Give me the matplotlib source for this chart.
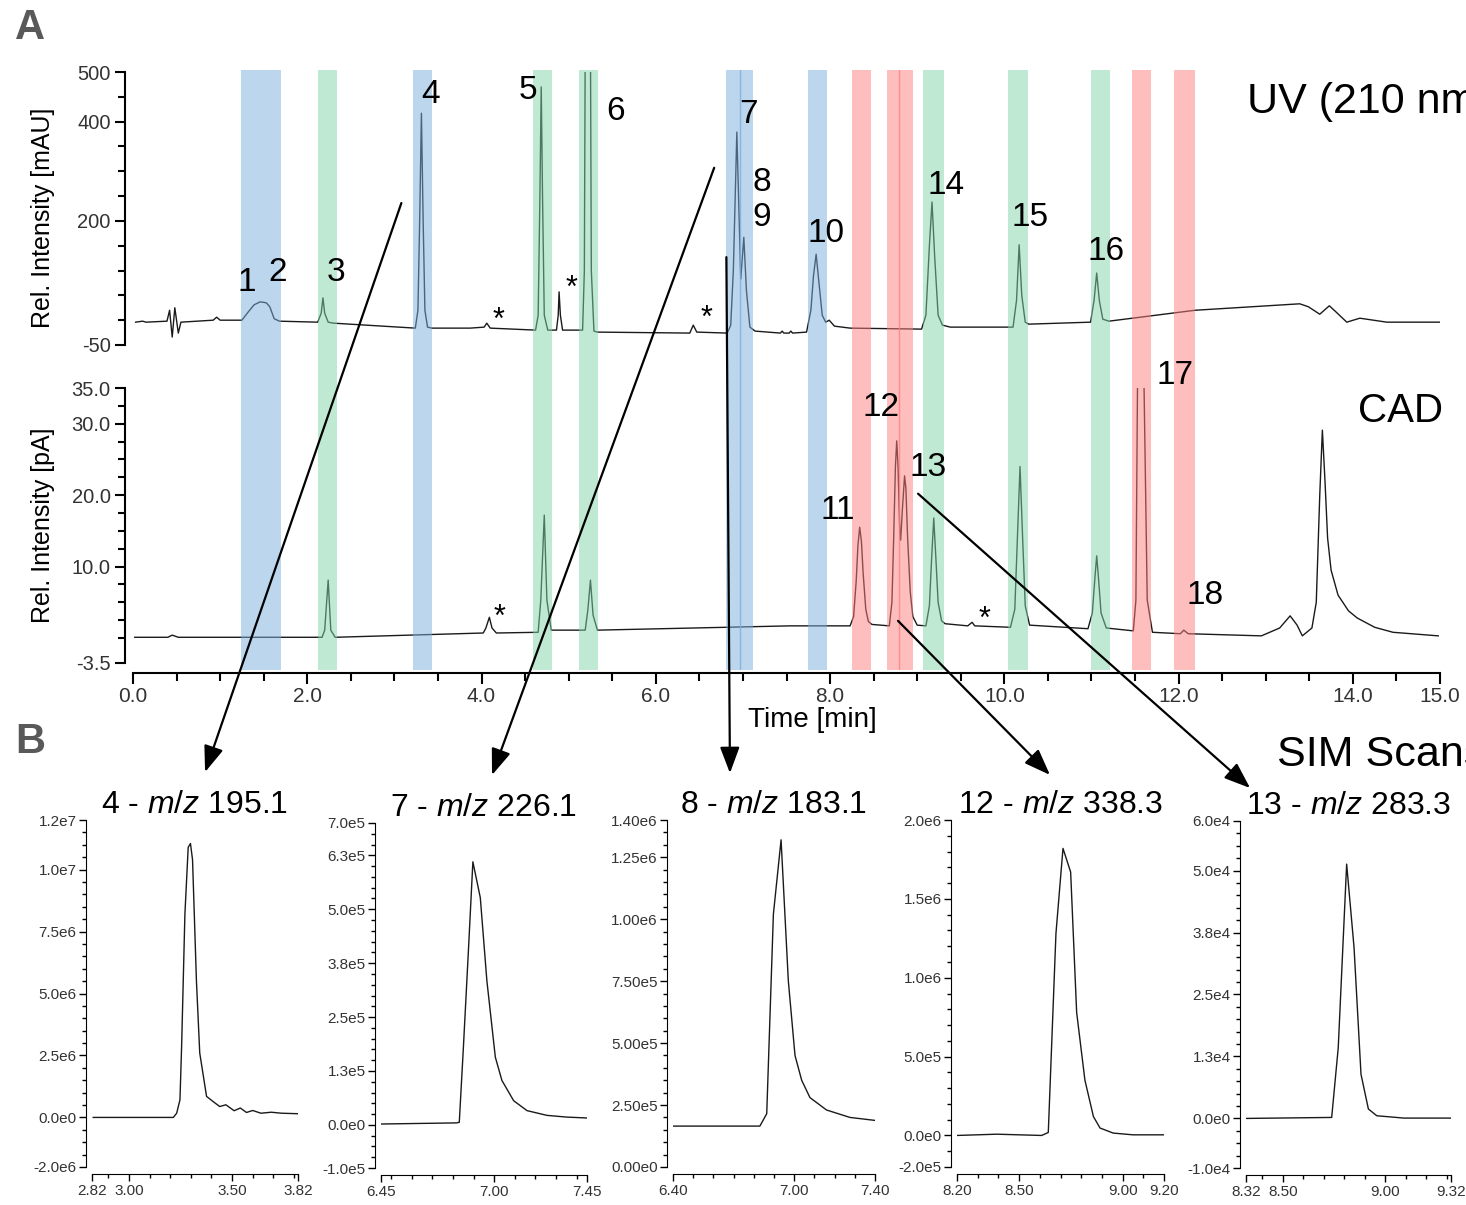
import numpy as np
import matplotlib.pyplot as plt
from matplotlib.patches import ConnectionPatch

plt.rcParams['font.family'] = ['Liberation Sans', 'DejaVu Sans']
plt.rcParams['mathtext.fontset'] = 'custom'
plt.rcParams['mathtext.rm'] = 'Liberation Sans'
plt.rcParams['mathtext.it'] = 'Liberation Sans:italic'

# ---- UV trace (min, mAU)
uv_time = [0.03, 0.11, 0.15, 0.39, 0.42, 0.45, 0.48, 0.52, 0.55, 0.92, 0.96, 1.00,
           1.25, 1.32, 1.39, 1.46, 1.53, 1.57, 1.62, 1.68,
           2.12, 2.16, 2.18, 2.20, 2.24, 2.30,
           3.24, 3.27, 3.29, 3.31, 3.33, 3.35, 3.38, 3.43, 3.87, 4.03, 4.06, 4.10,
           4.62, 4.65, 4.67, 4.685, 4.70, 4.72, 4.76,
           4.86, 4.88, 4.89, 4.905, 4.93,
           5.16, 5.18, 5.19, 5.25, 5.26, 5.29, 5.33,
           6.39, 6.43, 6.47,
           6.82, 6.86, 6.89, 6.93, 6.975, 7.01, 7.04, 7.08, 7.14,
           7.43, 7.45, 7.47, 7.53, 7.55, 7.57,
           7.73, 7.78, 7.81, 7.84, 7.87, 7.91, 7.95, 7.99, 8.05, 8.23,
           9.05, 9.10, 9.14, 9.17, 9.20, 9.24, 9.29, 9.38,
           10.10, 10.14, 10.17, 10.20, 10.24, 10.28,
           10.99, 11.03, 11.06, 11.09, 11.13, 11.20,
           12.19, 13.39, 13.49, 13.62, 13.73, 13.81, 13.93, 14.08, 14.39, 15.0]
uv_signal = [-4, -2, -4, -2, 20, -34, 25, -26, -4, 0, 6, 0,
             0, 16, 31, 37, 35, 27, 3, -2,
             -4, 14, 45, 14, -4, -6,
             -16, 20, 200, 417, 200, 20, -14, -16, -16, -14, -6, -16,
             -20, 10, 250, 470, 250, 10, -20,
             -20, 10, 57, 10, -20,
             -20, 100, 560, 560, 100, -22, -24,
             -26, -10, -24,
             -26, -10, 100, 379, 83, 167, 60, -14, -22,
             -26, -22, -26, -26, -22, -26,
             -24, 20, 90, 133, 80, 10, -4, 0, -12, -16,
             -18, 10, 150, 238, 130, 10, -10, -14,
             -14, 40, 152, 50, -4, -8,
             -4, 40, 95, 40, 2, -2,
             20, 33, 27, 12, 29, 16, -4, 4, -4, -4]

# ---- CAD trace (min, pA)
cad_time = [0.02, 0.40, 0.45, 0.52, 2.17, 2.20, 2.24, 2.27, 2.32,
            4.02, 4.05, 4.09, 4.12, 4.17,
            4.65, 4.68, 4.72, 4.75, 4.80,
            5.19, 5.22, 5.25, 5.28, 5.33,
            7.54, 8.23, 8.27, 8.30, 8.32, 8.34, 8.36, 8.38, 8.41, 8.44, 8.48,
            8.68, 8.71, 8.73, 8.75, 8.765, 8.78, 8.80, 8.81, 8.83, 8.855, 8.87, 8.89, 8.92, 8.95, 9.00,
            9.10, 9.14, 9.165, 9.19, 9.215, 9.24, 9.28, 9.32,
            9.58, 9.63, 9.66,
            10.07, 10.12, 10.15, 10.18, 10.21, 10.24, 10.29,
            10.96, 11.01, 11.04, 11.06, 11.08, 11.11, 11.17,
            11.48, 11.51, 11.53, 11.60, 11.64, 11.70,
            12.02, 12.06, 12.11, 12.95, 13.16, 13.28, 13.36, 13.42,
            13.53, 13.58, 13.62, 13.65, 13.68, 13.71, 13.75, 13.83, 13.95, 14.05, 14.25, 14.46, 14.98]
cad_signal = [0.1, 0.1, 0.4, 0.1, 0.1, 1.1, 8.1, 1.1, 0.1,
              0.7, 1.4, 2.9, 1.4, 0.7,
              0.8, 5.3, 17.2, 5.3, 1.1,
              1.1, 3.9, 8.1, 3.2, 1.1,
              1.7, 1.7, 3.0, 8.0, 13.0, 15.5, 13.5, 9.0, 4.0, 2.3, 1.9,
              1.7, 5.0, 14.0, 24.0, 27.6, 24.0, 15.0, 13.7, 18.0, 22.7, 21.0, 14.0, 6.5, 3.0, 1.8,
              1.7, 4.5, 11.0, 16.8, 11.0, 5.0, 2.4, 2.0,
              1.7, 2.2, 1.7,
              1.5, 4.0, 14.0, 24.0, 14.0, 4.5, 1.8,
              1.3, 3.5, 8.5, 11.5, 8.5, 3.5, 1.4,
              1.0, 5.3, 38.0, 38.0, 5.3, 0.8,
              0.6, 1.1, 0.6, 0.3, 1.4, 3.1, 1.8, 0.3,
              1.4, 5.0, 20.0, 29.1, 22.0, 14.0, 9.5, 6.0, 3.8, 2.8, 1.5, 0.8, 0.3]

# ---- highlighted windows (min)
band_start = [1.24, 2.12, 3.21, 4.59, 5.12, 6.81, 7.75, 8.25, 8.65, 9.07, 10.04, 11.00, 11.47, 11.95]
band_end = [1.70, 2.34, 3.43, 4.81, 5.34, 7.12, 7.97, 8.47, 8.95, 9.31, 10.27, 11.21, 11.68, 12.19]
band_class = ['b', 'g', 'b', 'g', 'g', 'b', 'b', 'r', 'r', 'g', 'g', 'g', 'r', 'r']
band_marks = [6.97, 8.79]
band_mark_class = ['b', 'r']

# ---- peak labels
uv_lab = ['1', '2', '3', '4', '5', '6', '7', '8', '9', '10', '14', '15', '16']
uv_lab_t = [1.31, 1.66, 2.33, 3.41, 4.53, 5.54, 7.06, 7.22, 7.22, 7.95, 9.33, 10.30, 11.17]
uv_lab_v = [75, 97, 97, 454, 462, 420, 414, 278, 206, 174, 272, 206, 139]
uv_star_t = [4.20, 5.03, 6.58]
uv_star_v = [-2, 63, 2]
cad_lab = ['11', '12', '13', '17', '18']
cad_lab_t = [8.09, 8.58, 9.12, 11.96, 12.30]
cad_lab_v = [17.8, 32.2, 23.9, 36.7, 5.9]
cad_star_t = [4.21, 9.77]
cad_star_v = [2.8, 2.5]

# ---- SIM scans
sim_titles = ['4 - $\\mathit{m/z}$ 195.1', '7 - $\\mathit{m/z}$ 226.1', '8 - $\\mathit{m/z}$ 183.1',
              '12 - $\\mathit{m/z}$ 338.3', '13 - $\\mathit{m/z}$ 283.3']
sim_time = [
    [2.826, 3.215, 3.231, 3.247, 3.255, 3.271, 3.287, 3.298, 3.308, 3.327, 3.343, 3.376,
     3.408, 3.44, 3.47, 3.51, 3.54, 3.57, 3.60, 3.64, 3.69, 3.74, 3.82],
    [6.45, 6.817, 6.83, 6.85, 6.875, 6.896, 6.932, 6.964, 7.005, 7.037, 7.094, 7.159, 7.256, 7.353, 7.45],
    [6.40, 6.83, 6.864, 6.897, 6.935, 6.971, 7.004, 7.037, 7.078, 7.16, 7.276, 7.40],
    [8.20, 8.392, 8.609, 8.641, 8.678, 8.712, 8.749, 8.778, 8.818, 8.859, 8.891, 8.955, 9.05, 9.20],
    [8.32, 8.738, 8.77, 8.811, 8.847, 8.881, 8.917, 8.958, 9.09, 9.32],
]
sim_signal = [
    [0, 0, 1.7e5, 7.1e5, 2.86e6, 8.2e6, 1.09e7, 1.105e7, 1.04e7, 5.5e6, 2.6e6, 8.5e5,
     6.4e5, 4.4e5, 5.1e5, 2.7e5, 3.8e5, 2.0e5, 2.8e5, 1.7e5, 2.1e5, 1.7e5, 1.5e5],
    [2e3, 4.6e3, 6e3, 1.8e5, 4.1e5, 6.1e5, 5.27e5, 3.34e5, 1.57e5, 1.03e5, 5.6e4, 3.3e4, 2.2e4, 1.8e4, 1.6e4],
    [1.65e5, 1.65e5, 2.15e5, 1.02e6, 1.32e6, 7.5e5, 4.5e5, 3.5e5, 2.8e5, 2.3e5, 2.0e5, 1.88e5],
    [0, 8e3, 0, 1.9e4, 1.28e6, 1.82e6, 1.67e6, 7.8e5, 3.5e5, 1.2e5, 4.7e4, 1.5e4, 4e3, 4e3],
    [0, 200, 1.43e4, 5.13e4, 3.45e4, 8.9e3, 1.9e3, 540, 70, 70],
]
sim_xlim = [(2.82, 3.82), (6.45, 7.45), (6.40, 7.40), (8.20, 9.20), (8.32, 9.32)]
sim_xticks = [[2.82, 3.00, 3.50, 3.82], [6.45, 7.00, 7.45], [6.40, 7.00, 7.40],
              [8.20, 8.50, 9.00, 9.20], [8.32, 8.50, 9.00, 9.32]]
sim_ylim = [(-2e6, 1.2e7), (-1e5, 7e5), (0, 1.4e6), (-2e5, 2e6), (-1e4, 6e4)]
sim_yticks = [[-2e6, 0, 2.5e6, 5e6, 7.5e6, 1e7, 1.2e7],
              [-1e5, 0, 1.25e5, 2.5e5, 3.75e5, 5e5, 6.25e5, 7e5],
              [0, 2.5e5, 5e5, 7.5e5, 1e6, 1.25e6, 1.4e6],
              [-2e5, 0, 5e5, 1e6, 1.5e6, 2e6],
              [-1e4, 0, 1.25e4, 2.5e4, 3.75e4, 5e4, 6e4]]
sim_ylabels = [['-2.0e6', '0.0e0', '2.5e6', '5.0e6', '7.5e6', '1.0e7', '1.2e7'],
               ['-1.0e5', '0.0e0', '1.3e5', '2.5e5', '3.8e5', '5.0e5', '6.3e5', '7.0e5'],
               ['0.00e0', '2.50e5', '5.00e5', '7.50e5', '1.00e6', '1.25e6', '1.40e6'],
               ['-2.0e5', '0.0e0', '5.0e5', '1.0e6', '1.5e6', '2.0e6'],
               ['-1.0e4', '0.0e0', '1.3e4', '2.5e4', '3.8e4', '5.0e4', '6.0e4']]
sim_yminor = [5e5, 2.5e4, 5e4, 1e5, 2.5e3]

# arrows: source (trace, time, value) -> target SIM panel (axes fraction)
arrow_src = ['uv', 'uv', 'uv', 'cad', 'cad']
arrow_t = [3.08, 6.67, 6.81, 8.78, 9.01]
arrow_v = [236, 307, 127, 2.4, 20.2]
arrow_dst = [(0.549, 1.138), (0.539, 1.139), (0.282, 1.135), (0.449, 1.130), (0.02, 1.095)]

# ------------------------------------------------------------------
W, H = 1466, 1205
fig = plt.figure(figsize=(W / 100, H / 100), dpi=100)


def rect(x0, y0, x1, y1):
    return [x0 / W, 1 - y1 / H, (x1 - x0) / W, (y1 - y0) / H]


band_colors = {'b': '#7BAFDD', 'g': '#81D5A9', 'r': '#FF7F7F'}
tick_col = '#333333'
line_col = '#1a1a1a'

ax_uv = fig.add_axes(rect(133, 72, 1440, 345), zorder=1)
ax_cad = fig.add_axes(rect(133, 388, 1440, 663), zorder=1)
ax_band = fig.add_axes(rect(133, 70, 1440, 670), zorder=3)

ax_uv.plot(uv_time, uv_signal, color=line_col, lw=1.0)
ax_cad.plot(cad_time, cad_signal, color=line_col, lw=1.0)

for ax in (ax_uv, ax_cad):
    ax.set_facecolor('none')
    ax.set_xlim(0, 15)
    for s in ('top', 'right'):
        ax.spines[s].set_visible(False)
    ax.spines['left'].set_position(('outward', 6))
    ax.spines['left'].set_linewidth(1.5)
    ax.tick_params(axis='y', which='major', length=7, width=1.5, labelsize=14.5,
                   labelcolor=tick_col, pad=3)
    ax.tick_params(axis='y', which='minor', length=5, width=1.5)

ax_uv.spines['bottom'].set_visible(False)
ax_uv.set_xticks([])
ax_uv.set_ylim(-50, 500)
ax_uv.set_yticks([-50, 200, 400, 500])
ax_uv.set_yticklabels(['-50', '200', '400', '500'])
ax_uv.set_yticks(np.arange(-50, 501, 50), minor=True)

ax_cad.set_ylim(-3.5, 35)
ax_cad.set_yticks([-3.5, 10, 20, 30, 35])
ax_cad.set_yticklabels(['-3.5', '10.0', '20.0', '30.0', '35.0'])
ax_cad.set_yticks(np.arange(0, 35.1, 2.5), minor=True)
ax_cad.spines['bottom'].set_position(('outward', 7))
ax_cad.spines['bottom'].set_linewidth(1.5)
ax_cad.set_xticks([0, 2, 4, 6, 8, 10, 12, 14, 15])
ax_cad.set_xticklabels(['0.0', '2.0', '4.0', '6.0', '8.0', '10.0', '12.0', '14.0', '15.0'])
ax_cad.set_xticks(np.arange(0, 15.01, 0.5), minor=True)
ax_cad.tick_params(axis='x', which='major', length=8, width=1.5, labelsize=15,
                   labelcolor=tick_col, pad=2)
ax_cad.tick_params(axis='x', which='minor', length=6, width=1.5)

# highlight windows drawn across both traces
ax_band.set_xlim(0, 15)
ax_band.set_ylim(0, 1)
ax_band.axis('off')
ax_band.patch.set_alpha(0)
for s, e, c in zip(band_start, band_end, band_class):
    ax_band.axvspan(s, e, color=band_colors[c], alpha=0.5, lw=0)
for m, c in zip(band_marks, band_mark_class):
    ax_band.axvline(m, color=band_colors[c], lw=1.0, alpha=0.8)

for lab, t, v in zip(uv_lab, uv_lab_t, uv_lab_v):
    ax_band.text(t, v, lab, transform=ax_uv.transData, ha='center', va='center', fontsize=24)
for t, v in zip(uv_star_t, uv_star_v):
    ax_band.text(t, v, '*', transform=ax_uv.transData, ha='center', va='center', fontsize=22)
for lab, t, v in zip(cad_lab, cad_lab_t, cad_lab_v):
    ax_band.text(t, v, lab, transform=ax_cad.transData, ha='center', va='center', fontsize=24)
for t, v in zip(cad_star_t, cad_star_v):
    ax_band.text(t, v, '*', transform=ax_cad.transData, ha='center', va='center', fontsize=22)

fig.text(1247 / W, 1 - 102 / H, 'UV (210 nm)', fontsize=31, ha='left', va='center')
fig.text(1400 / W, 1 - 411 / H, 'CAD', fontsize=29, ha='center', va='center')
fig.text(1277 / W, 1 - 755 / H, 'SIM Scans', fontsize=31, ha='left', va='center')
fig.text(812 / W, 1 - 720 / H, 'Time [min]', fontsize=20, ha='center', va='center')
fig.text(43 / W, 1 - 218 / H, 'Rel. Intensity [mAU]', fontsize=18, rotation=90,
         ha='center', va='center')
fig.text(43 / W, 1 - 525 / H, 'Rel. Intensity [pA]', fontsize=18, rotation=90,
         ha='center', va='center')
fig.text(30 / W, 1 - 28 / H, 'A', fontsize=30, fontweight='bold', color='#595959',
         ha='center', va='center')
fig.text(30 / W, 1 - 742 / H, 'B', fontsize=30, fontweight='bold', color='#595959',
         ha='center', va='center')

# ---- SIM panels
sim_rects = [rect(92, 820, 298, 1167), rect(381, 823, 587, 1168), rect(673, 820, 875, 1167),
             rect(957, 820, 1164, 1167), rect(1246, 821, 1451, 1168)]
sim_axes = []
for i in range(5):
    ax = fig.add_axes(sim_rects[i], zorder=1)
    ax.set_facecolor('none')
    ax.plot(sim_time[i], sim_signal[i], color=line_col, lw=1.0)
    ax.set_xlim(*sim_xlim[i])
    ax.set_ylim(*sim_ylim[i])
    for s in ('top', 'right'):
        ax.spines[s].set_visible(False)
    ax.spines['left'].set_position(('outward', 4))
    ax.spines['bottom'].set_position(('outward', 5))
    ax.set_xticks(sim_xticks[i])
    ax.set_xticklabels(['%.2f' % x for x in sim_xticks[i]])
    x0, x1 = sim_xlim[i]
    ax.set_xticks(np.arange(np.ceil(x0 * 10 + 1e-6) / 10, x1, 0.1), minor=True)
    ax.set_yticks(sim_yticks[i])
    ax.set_yticklabels(sim_ylabels[i])
    y0, y1 = sim_ylim[i]
    ax.set_yticks(np.arange(y0, y1 + 1, sim_yminor[i]), minor=True)
    ax.tick_params(which='major', length=5, width=1.0, labelsize=11, labelcolor=tick_col, pad=2)
    ax.tick_params(which='minor', length=3, width=1.0)
    ax.set_title(sim_titles[i], fontsize=23, pad=2)
    sim_axes.append(ax)

# ---- arrows from the chromatograms to the SIM scans
src_axes = {'uv': ax_uv, 'cad': ax_cad}
for src, t, v, dst, ax_t in zip(arrow_src, arrow_t, arrow_v, arrow_dst, sim_axes):
    con = ConnectionPatch(xyA=(t, v), coordsA=src_axes[src].transData,
                          xyB=dst, coordsB=ax_t.transAxes,
                          arrowstyle='-|>,head_length=0.8,head_width=0.3',
                          mutation_scale=20, lw=1.6, color='black', zorder=10)
    fig.add_artist(con)

fig.savefig('out.png', dpi=100)
